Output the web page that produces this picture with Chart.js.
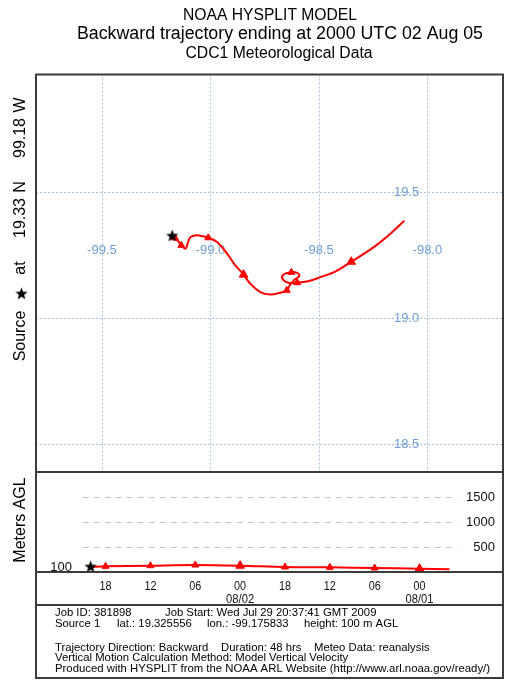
<!DOCTYPE html>
<html>
<head>
<meta charset="utf-8">
<script src="https://cdn.jsdelivr.net/npm/chart.js@4.4.0/dist/chart.umd.min.js"></script>
<style>
  html, body { margin: 0; padding: 0; background: #fff; }
  #wrap { width: 511px; height: 680px; }
</style>
</head>
<body>
<div id="wrap"><canvas id="traj" width="511" height="680"></canvas></div>
<script>
// source point
const srcLon = -99.175833;
const srcLat = 19.325556;

// trajectory path (from the source, going back in time)
const trajLon = [-99.1758, -99.153, -99.134, -99.114, -99.103, -99.091, -99.060, -99.010, -98.969, -98.923,
  -98.885, -98.847, -98.816, -98.770, -98.724, -98.679, -98.648, -98.636, -98.6145, -98.590,
  -98.603, -98.633, -98.664, -98.667, -98.641, -98.603, -98.549, -98.4895, -98.425, -98.351,
  -98.244, -98.168, -98.106];
const trajLat = [19.3256, 19.310, 19.289, 19.276, 19.302, 19.322, 19.329, 19.319, 19.302, 19.256,
  19.210, 19.173, 19.137, 19.104, 19.094, 19.101, 19.111, 19.128, 19.151, 19.168,
  19.181, 19.182, 19.173, 19.155, 19.141, 19.141, 19.147, 19.164, 19.185, 19.224,
  19.284, 19.337, 19.387];

// 6-hourly endpoints (hours back from 2000 UTC 02 Aug)
const markHours = [2, 8, 14, 20, 26, 32, 38, 44];
const markLabels = ['18', '12', '06', '00', '18', '12', '06', '00'];
const markLon = [-99.163, -99.134, -99.010, -98.847, -98.648, -98.627, -98.600, -98.351];
const markLat = [19.318, 19.289, 19.319, 19.173, 19.111, 19.182, 19.141, 19.224];
const dateHours = [20, 44];
const dateLabels = ['08/02', '08/01'];

// height profile
const hgtHours = [0, 2, 8, 14, 20, 26, 32, 38, 44, 48];
const hgtMeters = [100, 113, 126, 140, 126, 100, 93, 80, 66, 54];

// tick labels
const lonTicks = [-99.5, -99.0, -98.5, -98.0];
const latTicks = [19.5, 19.0, 18.5];
const hgtTicks = [500, 1000, 1500];

const FONT = '"Liberation Sans", Arial, Helvetica, sans-serif';

function makeStar(r) {
  const s = Math.ceil(r * 2 + 2);
  const c = document.createElement('canvas');
  c.width = s; c.height = s;
  const g = c.getContext('2d');
  g.beginPath();
  for (let i = 0; i < 10; i++) {
    const a = -Math.PI / 2 + i * Math.PI / 5;
    const rr = i % 2 ? r * 0.42 : r;
    g.lineTo(s / 2 + rr * Math.cos(a), s / 2 + rr * Math.sin(a));
  }
  g.closePath();
  g.fillStyle = '#000';
  g.fill();
  return c;
}
const starImg = makeStar(6.5);

function fitText(ctx, txt, x, y, w, size, align) {
  ctx.font = size + 'px ' + FONT;
  const nat = ctx.measureText(txt).width;
  const width = w || nat;
  let x0 = x;
  if (align === 'center') x0 = x - width / 2;
  if (align === 'right') x0 = x - width;
  ctx.save();
  ctx.translate(x0, y);
  ctx.scale(width / nat, 1);
  ctx.textAlign = 'left';
  ctx.fillText(txt, 0, 0);
  ctx.restore();
}

const isMidnight = markLabels.map(l => l === '00');

const hysplitDecor = {
  id: 'hysplitDecor',
  beforeDraw(chart) {
    const ctx = chart.ctx;
    ctx.save();
    ctx.fillStyle = '#fff';
    ctx.fillRect(0, 0, chart.width, chart.height);
    ctx.restore();
  },
  beforeDatasetsDraw(chart) {
    const ctx = chart.ctx;
    const area = chart.chartArea;
    const L = chart.scales.lon, A = chart.scales.lat, H = chart.scales.hrs, G = chart.scales.hgt;
    const sep = G.getPixelForValue(2000);
    ctx.save();

    // map grid
    ctx.strokeStyle = '#a6c3e6';
    ctx.lineWidth = 1;
    ctx.setLineDash([2, 2]);
    lonTicks.forEach(v => {
      const x = Math.round(L.getPixelForValue(v)) + 0.5;
      ctx.beginPath(); ctx.moveTo(x, area.top); ctx.lineTo(x, sep); ctx.stroke();
    });
    latTicks.forEach(v => {
      const y = Math.round(A.getPixelForValue(v)) + 0.5;
      ctx.beginPath(); ctx.moveTo(area.left, y); ctx.lineTo(area.right, y); ctx.stroke();
    });
    ctx.setLineDash([]);

    ctx.fillStyle = '#6f9dd3';
    ctx.font = '13px ' + FONT;
    ctx.textAlign = 'center';
    ctx.textBaseline = 'middle';
    lonTicks.forEach(v => {
      ctx.fillText(v.toFixed(1), L.getPixelForValue(v), A.getPixelForValue(19.2706));
    });
    latTicks.forEach(v => {
      ctx.fillText(v.toFixed(1), L.getPixelForValue(-98.096), A.getPixelForValue(v));
    });

    // height panel grid
    ctx.strokeStyle = '#c4c4c4';
    ctx.setLineDash([6, 5]);
    hgtTicks.forEach(v => {
      const y = Math.round(G.getPixelForValue(v)) + 0.5;
      ctx.beginPath(); ctx.moveTo(H.getPixelForValue(-1.05), y); ctx.lineTo(H.getPixelForValue(49.05), y); ctx.stroke();
    });
    ctx.setLineDash([]);

    ctx.fillStyle = '#111';
    ctx.font = '13px ' + FONT;
    ctx.textAlign = 'right';
    hgtTicks.forEach(v => ctx.fillText(String(v), area.right - 8, G.getPixelForValue(v)));
    ctx.fillText('100', 72, G.getPixelForValue(100));

    // time axis labels
    ctx.textBaseline = 'alphabetic';
    const yAxis = G.getPixelForValue(0);
    markHours.forEach((h, i) => {
      fitText(ctx, markLabels[i], H.getPixelForValue(h), yAxis + 17.5, 12, 13, 'center');
    });
    dateHours.forEach((h, i) => {
      fitText(ctx, dateLabels[i], H.getPixelForValue(h), yAxis + 30.5, 28, 13, 'center');
    });
    ctx.restore();
  },
  afterDatasetsDraw(chart) {
    const ctx = chart.ctx;
    const area = chart.chartArea;
    const G = chart.scales.hgt;
    const sep = G.getPixelForValue(2000);
    const yAxis = G.getPixelForValue(0);
    ctx.save();

    // frame
    ctx.strokeStyle = '#3c3c3c';
    ctx.lineWidth = 2;
    ctx.beginPath();
    ctx.rect(area.left, area.top, area.right - area.left, 678 - area.top);
    ctx.moveTo(area.left, sep); ctx.lineTo(area.right, sep);
    ctx.moveTo(area.left, yAxis); ctx.lineTo(area.right, yAxis);
    ctx.moveTo(area.left, 605); ctx.lineTo(area.right, 605);
    ctx.stroke();

    // titles
    ctx.fillStyle = '#000';
    ctx.textBaseline = 'alphabetic';
    fitText(ctx, 'NOAA HYSPLIT MODEL', 270, 20, 174, 16, 'center');
    fitText(ctx, 'Backward trajectory ending at 2000 UTC 02 Aug 05', 280, 39, 406, 18, 'center');
    fitText(ctx, 'CDC1 Meteorological Data', 279, 58, 187, 16, 'center');

    // info block
    const f = 11.3;
    fitText(ctx, 'Job ID: 381898', 55, 616, 0, f);
    fitText(ctx, 'Job Start: Wed Jul 29 20:37:41 GMT 2009', 165, 616, 0, f);
    fitText(ctx, 'Source 1', 55, 627, 0, f);
    fitText(ctx, 'lat.: 19.325556', 117, 627, 0, f);
    fitText(ctx, 'lon.: -99.175833', 207, 627, 0, f);
    fitText(ctx, 'height: 100 m AGL', 304, 627, 0, f);
    fitText(ctx, 'Trajectory Direction: Backward', 55, 650.5, 0, f);
    fitText(ctx, 'Duration: 48 hrs', 221, 650.5, 0, f);
    fitText(ctx, 'Meteo Data: reanalysis', 314, 650.5, 0, f);
    fitText(ctx, 'Vertical Motion Calculation Method: Model Vertical Velocity', 55, 661, 0, f);
    fitText(ctx, 'Produced with HYSPLIT from the NOAA ARL Website (http://www.arl.noaa.gov/ready/)', 55, 671.5, 435, f);

    // rotated side labels
    const side = [['Source', 336], ['at', 268], ['19.33', 218], ['N', 187], ['99.18', 138], ['W', 105]];
    ctx.font = '16px ' + FONT;
    ctx.textAlign = 'center';
    ctx.textBaseline = 'middle';
    side.forEach(([t, y]) => {
      ctx.save(); ctx.translate(21, y); ctx.rotate(-Math.PI / 2); ctx.fillText(t, 0, 0); ctx.restore();
    });
    ctx.drawImage(starImg, 21 - starImg.width / 2 + 0.5, 294 - starImg.height / 2);
    ctx.save(); ctx.translate(21, 520); ctx.rotate(-Math.PI / 2); ctx.fillText('Meters AGL', 0, 0); ctx.restore();
    ctx.restore();
  }
};

new Chart(document.getElementById('traj'), {
  type: 'scatter',
  data: {
    datasets: [
      {
        order: 0,
        data: [{ x: srcLon, y: srcLat }],
        xAxisID: 'lon', yAxisID: 'lat',
        pointStyle: starImg, pointRadius: 7
      },
      {
        order: 0,
        data: [{ x: hgtHours[0], y: hgtMeters[0] }],
        xAxisID: 'hrs', yAxisID: 'hgt',
        pointStyle: starImg, pointRadius: 7
      },
      {
        order: 1,
        data: markHours.map((h, i) => ({ x: markLon[i], y: markLat[i] })),
        xAxisID: 'lon', yAxisID: 'lat',
        pointStyle: 'triangle',
        pointRadius: isMidnight.map(b => b ? 5 : 4),
        backgroundColor: '#ff0000', borderColor: '#ff0000', borderWidth: 1
      },
      {
        order: 1,
        data: markHours.map(h => ({ x: h, y: hgtMeters[hgtHours.indexOf(h)] })),
        xAxisID: 'hrs', yAxisID: 'hgt',
        pointStyle: 'triangle',
        pointRadius: isMidnight.map(b => b ? 5 : 4),
        backgroundColor: '#ff0000', borderColor: '#ff0000', borderWidth: 1
      },
      {
        order: 2,
        data: trajLon.map((v, i) => ({ x: v, y: trajLat[i] })),
        xAxisID: 'lon', yAxisID: 'lat',
        showLine: true, tension: 0.4,
        borderColor: '#ff0000', borderWidth: 2, pointRadius: 0
      },
      {
        order: 2,
        data: hgtHours.map((h, i) => ({ x: h, y: hgtMeters[i] })),
        xAxisID: 'hrs', yAxisID: 'hgt',
        showLine: true, tension: 0.3,
        borderColor: '#ff0000', borderWidth: 2, pointRadius: 0
      }
    ]
  },
  options: {
    responsive: false,
    devicePixelRatio: 1,
    animation: false,
    layout: { padding: { left: 36, right: 5, top: 74.5, bottom: 108 } },
    plugins: { legend: { display: false }, tooltip: { enabled: false } },
    scales: {
      lon: { type: 'linear', axis: 'x', position: 'bottom', min: -99.8036, max: -97.6516, display: false },
      lat: { type: 'linear', axis: 'y', position: 'left', min: 17.9948, max: 19.9659, display: false },
      hrs: { type: 'linear', axis: 'x', position: 'top', min: -7.303, max: 55.163, display: false },
      hgt: { type: 'linear', axis: 'y', position: 'right', min: 0, max: 9950, display: false }
    }
  },
  plugins: [hysplitDecor]
});
</script>
</body>
</html>
